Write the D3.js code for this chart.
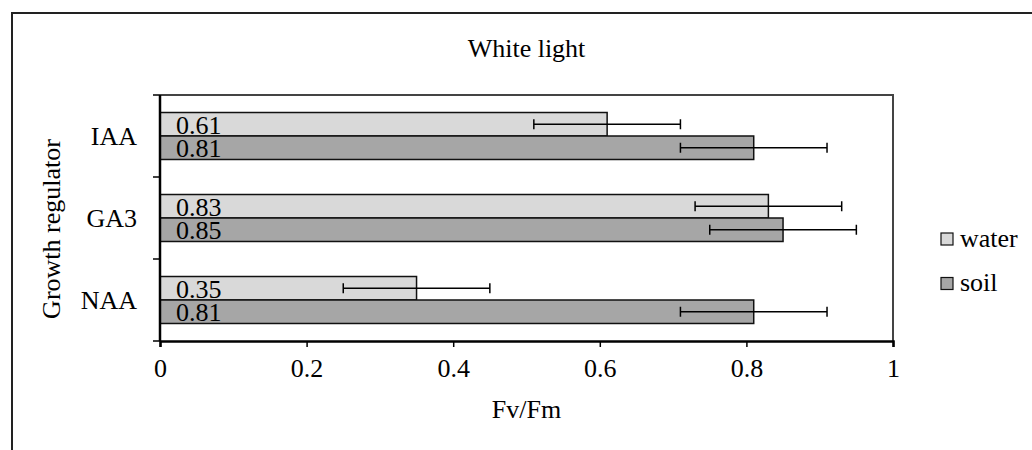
<!DOCTYPE html>
<html>
<head>
<meta charset="utf-8">
<script src="https://cdn.jsdelivr.net/npm/d3@7"></script>
<style>
  body { margin: 0; background: #fff; }
</style>
</head>
<body>
<svg id="chart" width="1032" height="450"></svg>
<script>
// data
const categories = ["IAA", "GA3", "NAA"];
const seriesNames = ["water", "soil"];
const waterValues = [0.61, 0.83, 0.35];
const soilValues = [0.81, 0.85, 0.81];
const waterErrors = [0.1, 0.1, 0.1];
const soilErrors = [0.1, 0.1, 0.1];
const xTicks = [0, 0.2, 0.4, 0.6, 0.8, 1];

const fills = { water: "#d9d9d9", soil: "#a6a6a6" };
const FONT = "'Liberation Serif', 'Times New Roman', Tinos, 'DejaVu Serif', serif";

const rows = [];
categories.forEach((c, i) => {
    rows.push({ cat: c, series: "water", value: waterValues[i], err: waterErrors[i] });
    rows.push({ cat: c, series: "soil", value: soilValues[i], err: soilErrors[i] });
});

const svg = d3.select("#chart");

// outer frame (runs off the bottom/right of the image)
svg.append("rect")
    .attr("x", 12).attr("y", 13)
    .attr("width", 1060).attr("height", 480)
    .attr("fill", "none")
    .attr("stroke", "#222")
    .attr("stroke-width", 2);

const plot = { left: 160, right: 893, top: 95, bottom: 341 };

const x = d3.scaleLinear().domain([0, 1]).range([plot.left, plot.right]);
const y = d3.scaleBand().domain(categories).range([plot.top, plot.bottom]).padding(0);
const ySub = d3.scaleBand().domain(seriesNames).range([0, y.bandwidth()])
    .paddingInner(0).paddingOuter(0.745);

// plot frame (top + right)
svg.append("path")
    .attr("d", `M${plot.left},${plot.top}H${plot.right}V${plot.bottom}`)
    .attr("fill", "none")
    .attr("stroke", "#444")
    .attr("stroke-width", 2);

// bars
const g = svg.append("g");
g.selectAll("rect.bar")
    .data(rows)
    .join("rect")
    .attr("class", "bar")
    .attr("x", x(0))
    .attr("y", d => y(d.cat) + ySub(d.series))
    .attr("width", d => x(d.value) - x(0))
    .attr("height", ySub.bandwidth())
    .attr("fill", d => fills[d.series])
    .attr("stroke", "#111")
    .attr("stroke-width", 1.5);

// value labels inside bars
g.selectAll("text.val")
    .data(rows)
    .join("text")
    .attr("class", "val")
    .attr("x", x(0) + 16)
    .attr("y", d => y(d.cat) + ySub(d.series) + ySub.bandwidth() - 2)
    .text(d => d.value.toFixed(2));

// error bars
const eb = g.selectAll("g.err")
    .data(rows)
    .join("g")
    .attr("class", "err")
    .attr("stroke", "#000")
    .attr("stroke-width", 1.5);
const mid = d => y(d.cat) + ySub(d.series) + ySub.bandwidth() / 2;
eb.append("line")
    .attr("x1", d => x(d.value - d.err)).attr("x2", d => x(d.value + d.err))
    .attr("y1", mid).attr("y2", mid);
eb.append("line")
    .attr("x1", d => x(d.value - d.err)).attr("x2", d => x(d.value - d.err))
    .attr("y1", d => mid(d) - 5).attr("y2", d => mid(d) + 5);
eb.append("line")
    .attr("x1", d => x(d.value + d.err)).attr("x2", d => x(d.value + d.err))
    .attr("y1", d => mid(d) - 5).attr("y2", d => mid(d) + 5);

// x axis
const xAxis = svg.append("g")
    .attr("transform", `translate(0,${plot.bottom})`)
    .call(d3.axisBottom(x).tickValues(xTicks).tickFormat(d3.format("")).tickSize(6).tickPadding(12));
xAxis.select(".domain").attr("stroke", "#000").attr("stroke-width", 2.5);
xAxis.selectAll(".tick line").attr("stroke", "#000").attr("stroke-width", 1.5);

// y axis: ticks at band boundaries
const yBounds = categories.map(c => y(c)).concat([y.range()[1]]);
svg.append("line")
    .attr("x1", x(0)).attr("x2", x(0))
    .attr("y1", plot.top).attr("y2", plot.bottom)
    .attr("stroke", "#000").attr("stroke-width", 2.5);
svg.selectAll("line.ytick")
    .data(yBounds)
    .join("line")
    .attr("class", "ytick")
    .attr("x1", x(0) - 7).attr("x2", x(0))
    .attr("y1", d => d).attr("y2", d => d)
    .attr("stroke", "#000").attr("stroke-width", 1.5);
svg.selectAll("text.ylab")
    .data(categories)
    .join("text")
    .attr("class", "ylab")
    .attr("x", x(0) - 23)
    .attr("y", d => y(d) + y.bandwidth() / 2)
    .attr("dy", "0.35em")
    .attr("text-anchor", "end")
    .text(d => d);

// titles
const cx = (plot.left + plot.right) / 2;
svg.append("text")
    .attr("x", cx).attr("y", 57)
    .attr("text-anchor", "middle")
    .text("White light");

svg.append("text")
    .attr("x", cx).attr("y", 418)
    .attr("text-anchor", "middle")
    .text("Fv/Fm");

svg.append("text")
    .attr("transform", `translate(60,229) rotate(-90)`)
    .attr("text-anchor", "middle")
    .text("Growth regulator");

// legend
const legend = svg.append("g").attr("transform", "translate(941,233)");
const li = legend.selectAll("g")
    .data(seriesNames)
    .join("g")
    .attr("transform", (d, i) => `translate(0,${i * 44.5})`);
li.append("rect")
    .attr("width", 12).attr("height", 12)
    .attr("fill", d => fills[d])
    .attr("stroke", "#111").attr("stroke-width", 1.2);
li.append("text")
    .attr("x", 19).attr("y", 13.5)
    .text(d => d);

// one font for every label
svg.selectAll("text")
    .attr("font-family", null)
    .attr("font-size", null)
    .style("font-family", FONT)
    .style("font-size", "26px")
    .style("fill", "#000");
</script>
</body>
</html>
